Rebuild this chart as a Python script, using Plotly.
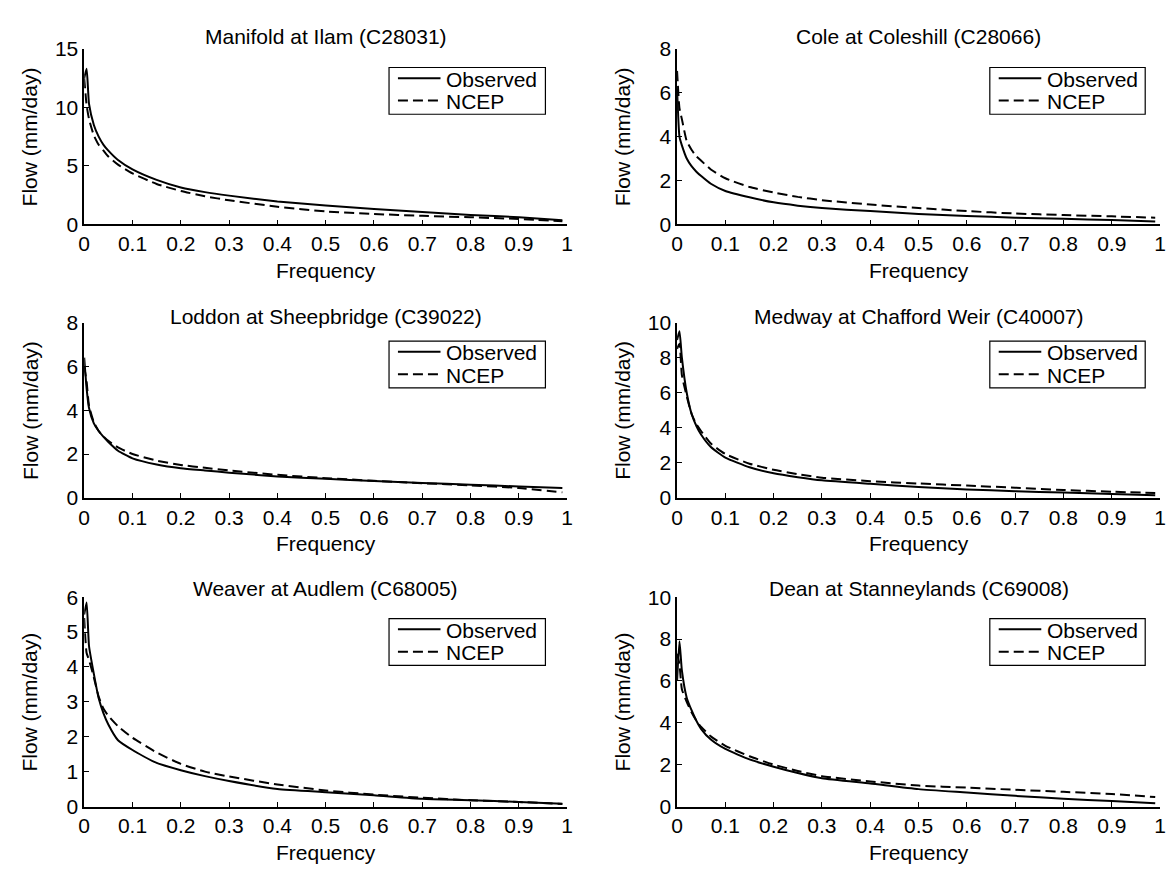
import plotly.graph_objects as go

# ---------------- data ----------------
FREQ = [0.0, 0.005, 0.01, 0.02, 0.03, 0.04, 0.05, 0.07, 0.1, 0.15, 0.2, 0.25,
        0.3, 0.4, 0.5, 0.6, 0.7, 0.8, 0.9, 0.99]

TITLES = ["Manifold at Ilam (C28031)", "Cole at Coleshill (C28066)",
          "Loddon at Sheepbridge (C39022)", "Medway at Chafford Weir (C40007)",
          "Weaver at Audlem (C68005)", "Dean at Stanneylands (C69008)"]

SERIES_NAMES = ["Observed", "NCEP"]

MANIFOLD_OBS = [12.5, 13.3, 10.3, 8.5, 7.5, 6.8, 6.3, 5.5, 4.7, 3.8, 3.15, 2.75,
                2.45, 1.95, 1.6, 1.3, 1.05, 0.8, 0.6, 0.35]
MANIFOLD_NCEP = [12.5, 10.2, 9.0, 7.6, 6.8, 6.3, 5.8, 5.1, 4.35, 3.45, 2.85, 2.4,
                 2.05, 1.5, 1.1, 0.88, 0.72, 0.6, 0.45, 0.25]

COLE_OBS = [6.2, 4.0, 3.6, 3.0, 2.65, 2.4, 2.2, 1.85, 1.52, 1.23, 1.0, 0.85,
            0.74, 0.6, 0.47, 0.38, 0.3, 0.25, 0.19, 0.13]
COLE_NCEP = [7.0, 5.3, 4.8, 3.8, 3.4, 3.1, 2.9, 2.5, 2.1, 1.7, 1.45, 1.25,
             1.1, 0.9, 0.74, 0.6, 0.49, 0.42, 0.36, 0.3]

LODDON_OBS = [6.4, 5.0, 4.1, 3.4, 3.05, 2.78, 2.55, 2.15, 1.8, 1.52, 1.35, 1.25,
              1.15, 0.98, 0.87, 0.77, 0.68, 0.6, 0.52, 0.45]
LODDON_NCEP = [6.0, 5.3, 4.2, 3.45, 3.05, 2.8, 2.6, 2.3, 2.0, 1.7, 1.5, 1.37,
               1.25, 1.05, 0.9, 0.78, 0.67, 0.57, 0.45, 0.25]

MEDWAY_OBS = [9.0, 9.5, 8.0, 6.0, 4.8, 4.1, 3.6, 2.9, 2.3, 1.75, 1.4, 1.18,
              1.0, 0.8, 0.62, 0.48, 0.38, 0.3, 0.22, 0.15]
MEDWAY_NCEP = [8.5, 8.8, 7.0, 5.8, 4.8, 4.2, 3.8, 3.1, 2.5, 1.95, 1.6, 1.35,
               1.15, 0.95, 0.82, 0.7, 0.58, 0.45, 0.35, 0.28]

WEAVER_OBS = [5.5, 5.85, 4.6, 3.8, 3.1, 2.67, 2.35, 1.9, 1.62, 1.25, 1.04, 0.87,
              0.73, 0.5, 0.41, 0.32, 0.22, 0.18, 0.13, 0.08]
WEAVER_NCEP = [5.4, 4.4, 4.2, 3.7, 3.15, 2.8, 2.6, 2.3, 1.97, 1.55, 1.22, 1.0,
               0.86, 0.63, 0.46, 0.34, 0.25, 0.18, 0.13, 0.07]

DEAN_OBS = [6.0, 7.9, 6.5, 5.2, 4.6, 4.1, 3.7, 3.2, 2.75, 2.25, 1.9, 1.6,
            1.35, 1.1, 0.83, 0.67, 0.51, 0.37, 0.26, 0.15]
DEAN_NCEP = [7.3, 6.8, 5.6, 5.0, 4.5, 4.1, 3.8, 3.35, 2.9, 2.4, 2.0, 1.7,
             1.45, 1.2, 1.0, 0.9, 0.8, 0.7, 0.6, 0.45]

OBSERVED = [MANIFOLD_OBS, COLE_OBS, LODDON_OBS, MEDWAY_OBS, WEAVER_OBS, DEAN_OBS]
NCEP = [MANIFOLD_NCEP, COLE_NCEP, LODDON_NCEP, MEDWAY_NCEP, WEAVER_NCEP, DEAN_NCEP]

YMAX = [15, 8, 8, 10, 6, 10]
YTICKS = [[0, 5, 10, 15], [0, 2, 4, 6, 8], [0, 2, 4, 6, 8],
          [0, 2, 4, 6, 8, 10], [0, 1, 2, 3, 4, 5, 6], [0, 2, 4, 6, 8, 10]]
XTICKS = [0, 0.1, 0.2, 0.3, 0.4, 0.5, 0.6, 0.7, 0.8, 0.9, 1]
XTICK_LABELS = ["0", "0.1", "0.2", "0.3", "0.4", "0.5", "0.6", "0.7", "0.8", "0.9", "1"]

# ---------------- layout geometry (pixels) ----------------
W, H = 1171, 873
COL_X = [(79, 567), (678, 1166)]
ROW_Y = [(38, 218), (319, 499), (601, 816)]
TITLE_Y = [25, 313, 592]
LEG_X = [(387, 545), (994, 1151)]
LEG_TOP = [57, 338, 623]
LEG_H = 48

FONT = "Liberation Sans, Arial, Helvetica, sans-serif"
FS = 21
DASH = "10px,5px"


def px(x):
    return x / W


def py(y):
    return 1 - y / H


fig = go.Figure()
annotations = []
shapes = []
layout = dict(
    width=W, height=H,
    margin=dict(l=0, r=0, t=0, b=0),
    paper_bgcolor="white", plot_bgcolor="white",
    font=dict(family=FONT, size=FS, color="black"),
    showlegend=False,
)


def text_ann(text, x, y, xanchor="center", angle=0):
    return dict(text=text, x=px(x), y=py(y), xref="paper", yref="paper",
                showarrow=False, xanchor=xanchor, yanchor="middle",
                textangle=angle, font=dict(family=FONT, size=FS, color="black"))


for i in range(6):
    r, c = divmod(i, 2)
    n = i + 1
    xa = "x" if n == 1 else f"x{n}"
    ya = "y" if n == 1 else f"y{n}"

    fig.add_trace(go.Scatter(
        x=FREQ, y=OBSERVED[i], mode="lines", name=SERIES_NAMES[0],
        line=dict(color="black", width=2, shape="spline", smoothing=0.5),
        xaxis=xa, yaxis=ya))
    fig.add_trace(go.Scatter(
        x=FREQ, y=NCEP[i], mode="lines", name=SERIES_NAMES[1],
        line=dict(color="black", width=2, dash=DASH, shape="spline", smoothing=0.5),
        xaxis=xa, yaxis=ya))

    x0, x1 = COL_X[c]
    y0, y1 = ROW_Y[r]
    axcommon = dict(showline=True, linecolor="black", linewidth=1.5,
                    ticks="inside", ticklen=5, tickwidth=1.2, tickcolor="black",
                    showgrid=False, zeroline=False,
                    tickfont=dict(family=FONT, size=FS, color="black"))
    layout["xaxis" if n == 1 else f"xaxis{n}"] = dict(
        domain=[px(x0), px(x1)], range=[0, 1], anchor=ya,
        tickvals=XTICKS, ticktext=XTICK_LABELS, **axcommon)
    layout["yaxis" if n == 1 else f"yaxis{n}"] = dict(
        domain=[py(y1), py(y0)], range=[0, YMAX[i]], anchor=xa,
        tickvals=YTICKS[i], **axcommon)

    cx = (x0 + x1) / 2
    annotations.append(text_ann(TITLES[i], cx, TITLE_Y[r]))
    annotations.append(text_ann("Frequency", cx, y1 + 47))
    annotations.append(text_ann("Flow (mm/day)", x0 - 55, (y0 + y1) / 2, angle=-90))

    # legend box
    lx0, lx1 = LEG_X[c]
    lt = LEG_TOP[r]
    shapes.append(dict(type="rect", xref="paper", yref="paper",
                       x0=px(lx0), x1=px(lx1), y0=py(lt + LEG_H), y1=py(lt),
                       line=dict(color="black", width=1.2), fillcolor="white",
                       layer="above"))
    for k, (name, dash) in enumerate(zip(SERIES_NAMES, ["solid", DASH])):
        ly = lt + 11 + 23 * k
        shapes.append(dict(type="line", xref="paper", yref="paper",
                           x0=px(lx0 + 9), x1=px(lx0 + 52), y0=py(ly), y1=py(ly),
                           line=dict(color="black", width=2, dash=dash),
                           layer="above"))
        annotations.append(text_ann(name, lx0 + 56, ly + 1, xanchor="left"))

layout["annotations"] = annotations
layout["shapes"] = shapes
fig.update_layout(**layout)
fig.write_html("out.html")
